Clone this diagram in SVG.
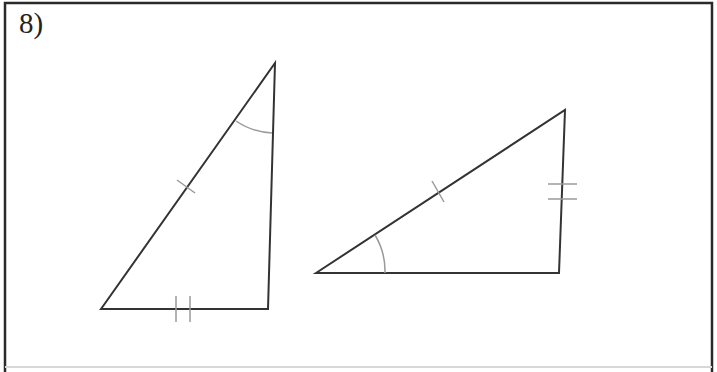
<svg xmlns="http://www.w3.org/2000/svg" width="717" height="372" viewBox="0 0 717 372">
<style>
.frame{fill:none;stroke:#2a2a2a;stroke-width:2.5}
.bottom{stroke:#d8d8d8;stroke-width:2}
.tri{fill:none;stroke:#333;stroke-width:2;stroke-linejoin:miter}
.mark{fill:none;stroke:#9a9a9a;stroke-width:1.5}
.lbl{font-family:"Liberation Serif",serif;font-size:29px;fill:#222}
</style>
<rect width="717" height="372" fill="#fff"/>
<g id="frame">
<polyline class="frame" points="5,372 5,3 712,3 712,372"/>
<line class="bottom" x1="5" y1="367" x2="712" y2="367"/>
</g>
<g id="label"><text class="lbl" x="19" y="33">8)</text></g>
<g id="triangle1">
<polygon class="tri" points="101,309 275,63 268,309"/>
<path class="mark" d="M236,121 A70,70 0 0 0 272,133"/>
<line class="mark" x1="177" y1="180" x2="195" y2="193"/>
<line class="mark" x1="176" y1="296" x2="176" y2="322"/>
<line class="mark" x1="190" y1="296" x2="190" y2="322"/>
</g>
<g id="triangle2">
<polygon class="tri" points="316,273 565,110 559,273"/>
<path class="mark" d="M375,235 A70,70 0 0 1 385,273"/>
<line class="mark" x1="432" y1="181" x2="444" y2="202"/>
<line class="mark" x1="548" y1="184" x2="577" y2="184"/>
<line class="mark" x1="548" y1="199" x2="577" y2="199"/>
</g>
</svg>
